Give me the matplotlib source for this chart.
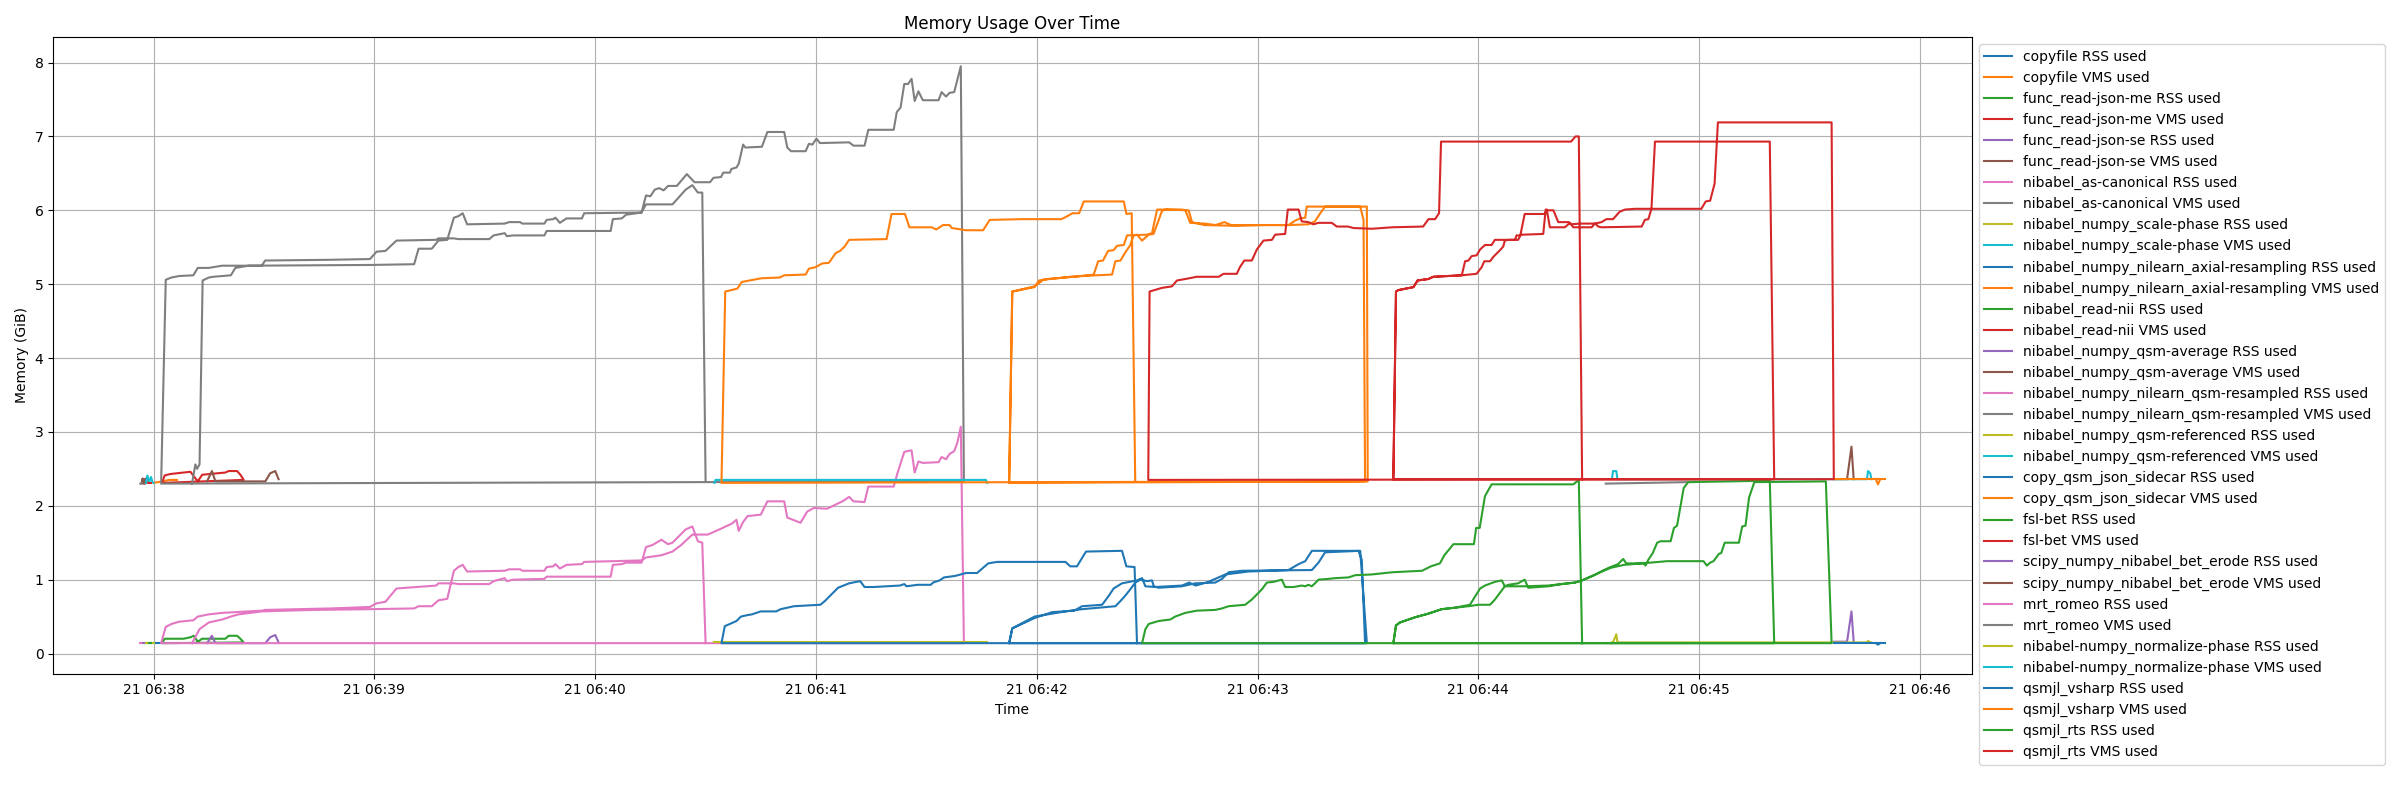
import matplotlib
matplotlib.use("Agg")
import matplotlib.pyplot as plt
import pandas as pd

START = pd.Timestamp("2024-05-21 06:38:00")

# every run is a list of (minutes after 06:38:00, GiB) samples;
# runs of the same task were logged one after the other, so they get concatenated
copyfile_rss = [(0.0, 0.14), (0.04, 0.14), (0.07, 0.14), (0.106, 0.14)]
copyfile_vms = [(0.0, 2.31), (0.04, 2.33), (0.07, 2.35), (0.106, 2.35)]

json_me_rss = [(-0.04, 0.14), (-0.035, 0.14), (-0.03, 0.14)]
json_me_vms = [(-0.04, 2.30), (-0.035, 2.37), (-0.03, 2.31)]

json_se_rss = [(-0.055, 0.14), (-0.05, 0.14), (-0.046, 0.14), (-0.041, 0.14), (-0.037, 0.14)]
json_se_vms = [(-0.055, 2.30), (-0.05, 2.37), (-0.046, 2.30), (-0.041, 2.36), (-0.037, 2.31)]

canonical_rss = [(-0.06, 0.14), (-0.055, 0.14)]
canonical_vms = [(-0.06, 2.30), (-0.055, 2.31)]

scale_phase_rss = [(-0.035, 0.14), (-0.028, 0.14), (-0.02, 0.14), (-0.012, 0.14), (-0.005, 0.14), (0.0, 0.14)]
scale_phase_vms = [(-0.035, 2.31), (-0.028, 2.41), (-0.02, 2.32), (-0.012, 2.39), (-0.005, 2.32), (0.0, 2.31)]

axial_rss = [(7.80, 0.14), (7.81, 0.12), (7.82, 0.14)]
axial_vms = [(7.80, 2.36), (7.81, 2.29), (7.82, 2.36)]

read_nii_rss = [(-0.02, 0.14), (-0.01, 0.14)]
read_nii_vms = [(-0.02, 2.31), (-0.01, 2.31)]

qsm_average_rss = [(7.61, 0.16), (7.67, 0.16), (7.69, 0.57), (7.70, 0.16)]
qsm_average_vms = [(7.61, 2.36), (7.67, 2.36), (7.69, 2.80), (7.70, 2.36)]

qsm_resampled_rss = [(6.577, 0.14), (6.95, 0.14)]
qsm_resampled_vms = [(6.577, 2.30), (6.95, 2.32)]

qsm_referenced_rss = [(6.605, 0.15), (6.61, 0.15), (6.625, 0.26), (6.63, 0.15),
                      (7.76, 0.15), (7.765, 0.17), (7.775, 0.15), (7.78, 0.15)]
qsm_referenced_vms = [(6.605, 2.36), (6.61, 2.47), (6.625, 2.47), (6.63, 2.36),
                      (7.76, 2.36), (7.765, 2.47), (7.775, 2.44), (7.78, 2.36)]

sidecar_rss = [(7.61, 0.14), (7.84, 0.14)]
sidecar_vms = [(7.61, 2.36), (7.84, 2.36)]

bet_rss = [(0.20, 0.16), (0.22, 0.20), (0.325, 0.20), (0.34, 0.24), (0.378, 0.24), (0.393, 0.20), (0.408, 0.15),
           (0.038, 0.14), (0.05, 0.20), (0.076, 0.20), (0.136, 0.20), (0.167, 0.22), (0.182, 0.24), (0.20, 0.16)]
bet_vms = [(0.20, 2.33), (0.22, 2.42), (0.325, 2.45), (0.34, 2.47), (0.378, 2.47), (0.393, 2.42), (0.408, 2.35),
           (0.038, 2.31), (0.05, 2.41), (0.076, 2.43), (0.136, 2.45), (0.167, 2.46), (0.182, 2.40), (0.20, 2.33)]

erode_rss = [(0.242, 0.14), (0.264, 0.24), (0.28, 0.14), (0.506, 0.14), (0.528, 0.22), (0.551, 0.25), (0.566, 0.15)]
erode_vms = [(0.242, 2.33), (0.264, 2.47), (0.28, 2.33), (0.506, 2.33), (0.528, 2.44), (0.551, 2.47), (0.566, 2.36)]

romeo_rss_b = [(0.174, 0.14), (0.208, 0.33), (0.25, 0.42), (0.31, 0.46), (0.36, 0.51), (0.385, 0.53), (0.49, 0.57),
               (0.72, 0.59), (0.98, 0.60), (1.18, 0.61), (1.20, 0.64), (1.26, 0.64), (1.29, 0.72), (1.33, 0.74),
               (1.36, 1.12), (1.38, 1.17), (1.40, 1.20), (1.42, 1.11), (1.59, 1.12), (1.61, 1.14), (1.66, 1.14),
               (1.67, 1.12), (1.77, 1.12), (1.78, 1.17), (1.81, 1.18), (1.82, 1.21), (1.84, 1.15), (1.87, 1.20),
               (1.94, 1.21), (1.95, 1.24), (2.21, 1.26), (2.23, 1.30), (2.30, 1.33), (2.35, 1.38), (2.39, 1.47),
               (2.44, 1.61), (2.51, 1.61), (2.57, 1.69), (2.62, 1.76), (2.64, 1.81), (2.65, 1.66), (2.67, 1.78),
               (2.69, 1.86), (2.75, 1.88), (2.78, 2.06), (2.856, 2.06), (2.87, 1.84), (2.93, 1.77), (2.96, 1.92),
               (2.99, 1.97), (3.05, 1.96), (3.12, 2.06), (3.15, 2.12), (3.17, 2.06), (3.22, 2.05), (3.237, 2.26),
               (3.352, 2.26), (3.37, 2.45), (3.40, 2.73), (3.433, 2.75), (3.447, 2.45), (3.464, 2.60), (3.484, 2.58),
               (3.555, 2.59), (3.569, 2.66), (3.589, 2.63), (3.605, 2.70), (3.626, 2.74), (3.64, 2.85), (3.656, 3.07),
               (3.67, 0.14)]
romeo_rss_a = [(0.034, 0.14), (0.055, 0.36), (0.081, 0.40), (0.115, 0.43), (0.18, 0.45), (0.20, 0.50), (0.25, 0.53),
               (0.31, 0.55), (0.49, 0.58), (0.505, 0.59), (0.80, 0.61), (0.98, 0.63), (1.01, 0.68), (1.05, 0.70),
               (1.10, 0.88), (1.28, 0.92), (1.29, 0.95), (1.36, 0.95), (1.38, 0.94), (1.52, 0.94), (1.54, 0.98),
               (1.59, 1.02), (1.60, 0.98), (1.63, 1.00), (1.77, 1.01), (1.78, 1.04), (2.07, 1.04), (2.08, 1.20),
               (2.12, 1.21), (2.14, 1.23), (2.21, 1.23), (2.23, 1.44), (2.26, 1.47), (2.30, 1.54), (2.33, 1.48),
               (2.35, 1.50), (2.41, 1.68), (2.44, 1.72), (2.465, 1.52), (2.485, 1.50), (2.50, 0.14)]
romeo_vms_b = [(0.174, 2.30), (0.189, 2.56), (0.197, 2.50), (0.208, 2.56), (0.222, 5.05), (0.25, 5.09), (0.27, 5.10),
               (0.35, 5.12), (0.37, 5.22), (0.43, 5.25), (0.98, 5.26), (1.18, 5.27), (1.20, 5.48), (1.26, 5.48),
               (1.29, 5.59), (1.33, 5.60), (1.36, 5.90), (1.38, 5.92), (1.40, 5.96), (1.42, 5.81), (1.59, 5.82),
               (1.61, 5.84), (1.66, 5.84), (1.67, 5.82), (1.77, 5.82), (1.78, 5.87), (1.81, 5.88), (1.82, 5.90),
               (1.84, 5.83), (1.87, 5.89), (1.94, 5.89), (1.95, 5.96), (2.21, 5.97), (2.23, 6.20), (2.25, 6.19),
               (2.27, 6.28), (2.29, 6.30), (2.31, 6.27), (2.33, 6.33), (2.37, 6.33), (2.415, 6.49), (2.45, 6.38),
               (2.52, 6.38), (2.536, 6.44), (2.57, 6.45), (2.58, 6.51), (2.61, 6.51), (2.617, 6.56), (2.64, 6.58),
               (2.65, 6.63), (2.67, 6.89), (2.68, 6.85), (2.755, 6.86), (2.78, 7.06), (2.856, 7.06), (2.87, 6.85),
               (2.887, 6.80), (2.953, 6.80), (2.968, 6.90), (2.984, 6.89), (3.002, 6.97), (3.018, 6.91), (3.15, 6.92),
               (3.17, 6.875), (3.22, 6.875), (3.237, 7.09), (3.352, 7.09), (3.366, 7.33), (3.383, 7.39), (3.40, 7.71),
               (3.417, 7.71), (3.433, 7.78), (3.447, 7.48), (3.464, 7.61), (3.484, 7.49), (3.555, 7.49), (3.569, 7.60),
               (3.589, 7.54), (3.605, 7.59), (3.626, 7.60), (3.656, 7.95), (3.67, 2.33)]
romeo_vms_a = [(0.034, 2.30), (0.055, 5.06), (0.081, 5.09), (0.115, 5.11), (0.18, 5.12), (0.20, 5.22), (0.25, 5.22),
               (0.31, 5.25), (0.49, 5.25), (0.505, 5.32), (0.80, 5.33), (0.98, 5.34), (1.01, 5.44), (1.05, 5.45),
               (1.10, 5.59), (1.28, 5.60), (1.29, 5.62), (1.36, 5.62), (1.38, 5.61), (1.52, 5.61), (1.54, 5.66),
               (1.59, 5.69), (1.60, 5.65), (1.63, 5.66), (1.77, 5.66), (1.78, 5.72), (2.07, 5.72), (2.08, 5.88),
               (2.12, 5.89), (2.14, 5.94), (2.21, 5.97), (2.23, 6.08), (2.35, 6.08), (2.41, 6.28), (2.44, 6.34),
               (2.465, 6.24), (2.485, 6.24), (2.50, 2.33)]

normalize_rss = [(2.54, 0.15), (2.545, 0.15), (3.77, 0.15), (3.775, 0.15)]
normalize_vms = [(2.54, 2.31), (2.545, 2.35), (3.77, 2.35), (3.775, 2.31)]

vsharp_rss_c = [(3.875, 0.14), (3.889, 0.34), (3.99, 0.48), (4.07, 0.56), (4.17, 0.58), (4.205, 0.64), (4.296, 0.66),
                (4.326, 0.78), (4.348, 0.88), (4.386, 0.95), (4.454, 0.99), (4.477, 1.02), (4.492, 0.91), (4.537, 0.90),
                (4.658, 0.92), (4.69, 0.96), (4.72, 0.92), (4.778, 0.97), (4.808, 1.01), (4.854, 1.07), (4.959, 1.11),
                (5.14, 1.13), (5.186, 1.21), (5.216, 1.25), (5.246, 1.39), (5.457, 1.39), (5.472, 1.27), (5.487, 0.14)]
vsharp_rss_d = [(3.875, 0.14), (3.889, 0.34), (3.99, 0.50), (4.13, 0.57), (4.205, 0.60), (4.356, 0.64), (4.379, 0.71),
                (4.40, 0.78), (4.424, 0.87), (4.446, 0.96), (4.469, 1.00), (4.50, 0.98), (4.522, 0.99), (4.53, 0.91),
                (4.552, 0.89), (4.658, 0.91), (4.718, 0.95), (4.808, 0.96), (4.839, 1.01), (4.869, 1.10), (4.93, 1.12),
                (5.246, 1.13), (5.276, 1.23), (5.306, 1.37), (5.465, 1.39), (5.495, 0.14)]
vsharp_rss_1 = [(2.572, 0.14), (2.587, 0.37), (2.61, 0.40), (2.64, 0.44), (2.66, 0.50), (2.69, 0.52), (2.71, 0.53),
                (2.75, 0.57), (2.82, 0.57), (2.84, 0.60), (2.90, 0.64), (3.02, 0.66), (3.04, 0.71), (3.07, 0.80),
                (3.10, 0.89), (3.15, 0.95), (3.20, 0.98), (3.22, 0.90), (3.26, 0.90), (3.38, 0.92), (3.40, 0.94),
                (3.41, 0.91), (3.46, 0.93), (3.52, 0.93), (3.53, 0.96), (3.56, 0.99), (3.58, 1.03), (3.63, 1.05),
                (3.68, 1.09), (3.73, 1.09), (3.78, 1.22), (3.82, 1.24), (4.13, 1.24), (4.152, 1.18), (4.182, 1.18),
                (4.223, 1.38), (4.386, 1.39), (4.406, 1.18), (4.443, 1.17), (4.454, 0.14)]
vsharp_vms_c = [(3.875, 2.31), (3.889, 4.90), (3.99, 4.96), (4.01, 5.05), (4.05, 5.07), (4.17, 5.10), (4.258, 5.13),
                (4.278, 5.31), (4.30, 5.32), (4.323, 5.45), (4.348, 5.46), (4.364, 5.52), (4.394, 5.53), (4.409, 5.66),
                (4.50, 5.67), (4.522, 5.69), (4.545, 6.01), (4.658, 6.01), (4.673, 6.00), (4.695, 5.83), (4.76, 5.82),
                (4.81, 5.80), (4.85, 5.84), (4.88, 5.80), (5.02, 5.80), (5.14, 5.80), (5.23, 5.81), (5.26, 5.85),
                (5.284, 5.96), (5.306, 6.05), (5.495, 6.05), (5.499, 2.33)]
vsharp_vms_d = [(3.875, 2.31), (3.889, 4.90), (3.99, 4.97), (4.03, 5.06), (4.152, 5.10), (4.205, 5.11), (4.341, 5.13),
                (4.356, 5.31), (4.379, 5.32), (4.401, 5.43), (4.424, 5.53), (4.431, 5.60), (4.439, 5.66), (4.454, 5.67),
                (4.477, 5.59), (4.507, 5.67), (4.529, 5.68), (4.567, 5.99), (4.582, 6.01), (4.688, 6.00), (4.703, 5.84),
                (4.76, 5.80), (4.90, 5.79), (5.02, 5.80), (5.14, 5.80), (5.17, 5.86), (5.193, 5.89), (5.216, 5.90),
                (5.223, 6.05), (5.465, 6.05), (5.48, 5.87), (5.487, 2.33)]
vsharp_vms_1 = [(2.572, 2.31), (2.589, 4.90), (2.644, 4.94), (2.664, 5.03), (2.735, 5.07), (2.755, 5.08), (2.836, 5.09),
                (2.856, 5.12), (2.953, 5.13), (2.968, 5.21), (2.998, 5.23), (3.028, 5.28), (3.059, 5.29), (3.089, 5.42),
                (3.109, 5.45), (3.13, 5.51), (3.15, 5.60), (3.32, 5.61), (3.342, 5.95), (3.403, 5.95), (3.423, 5.77),
                (3.524, 5.77), (3.545, 5.74), (3.575, 5.80), (3.605, 5.80), (3.615, 5.76), (3.68, 5.73), (3.757, 5.73),
                (3.787, 5.87), (3.929, 5.88), (4.111, 5.88), (4.132, 5.91), (4.162, 5.96), (4.192, 5.96), (4.213, 6.12),
                (4.394, 6.12), (4.406, 5.95), (4.43, 5.96), (4.446, 2.33)]

rts_rss_f = [(5.615, 0.14), (5.627, 0.38), (5.645, 0.42), (5.713, 0.49), (5.774, 0.54), (5.834, 0.60), (5.894, 0.62),
             (5.955, 0.64), (6.0, 0.66), (6.053, 0.66), (6.075, 0.73), (6.12, 0.91), (6.136, 0.93), (6.18, 0.95),
             (6.21, 1.00), (6.226, 0.89), (6.317, 0.91), (6.377, 0.94), (6.437, 0.96), (6.47, 0.99), (6.53, 1.07),
             (6.59, 1.16), (6.633, 1.21), (6.656, 1.28), (6.67, 1.22), (6.75, 1.22), (6.757, 1.19), (6.77, 1.27),
             (6.79, 1.36), (6.81, 1.50), (6.826, 1.52), (6.871, 1.52), (6.886, 1.70), (6.90, 1.73), (6.916, 2.00),
             (6.93, 2.24), (6.95, 2.32), (7.32, 2.34), (7.34, 0.14)]
rts_rss_e = [(5.615, 0.14), (5.627, 0.38), (5.645, 0.42), (5.713, 0.49), (5.774, 0.54), (5.834, 0.60), (5.894, 0.62),
             (5.962, 0.66), (6.008, 0.88), (6.03, 0.92), (6.075, 0.97), (6.106, 0.99), (6.12, 0.91), (6.21, 0.91),
             (6.317, 0.92), (6.377, 0.94), (6.437, 0.96), (6.47, 0.99), (6.51, 1.04), (6.56, 1.11), (6.60, 1.16),
             (6.66, 1.20), (6.74, 1.22), (6.855, 1.25), (7.02, 1.25), (7.035, 1.19), (7.05, 1.23), (7.065, 1.25),
             (7.09, 1.35), (7.10, 1.36), (7.116, 1.50), (7.18, 1.50), (7.195, 1.72), (7.21, 1.73), (7.226, 2.11),
             (7.25, 2.32), (7.574, 2.33), (7.60, 0.14)]
rts_rss_1 = [(4.477, 0.14), (4.492, 0.33), (4.507, 0.40), (4.552, 0.44), (4.605, 0.46), (4.627, 0.50), (4.673, 0.55),
             (4.725, 0.58), (4.808, 0.59), (4.839, 0.61), (4.869, 0.64), (4.944, 0.66), (4.974, 0.73), (5.02, 0.87),
             (5.042, 0.96), (5.072, 0.97), (5.11, 1.00), (5.125, 0.90), (5.163, 0.90), (5.20, 0.92), (5.216, 0.91),
             (5.23, 0.93), (5.246, 0.91), (5.26, 0.95), (5.276, 1.00), (5.321, 1.01), (5.351, 1.02), (5.412, 1.03),
             (5.442, 1.06), (5.517, 1.07), (5.61, 1.10), (5.745, 1.12), (5.785, 1.18), (5.826, 1.22), (5.846, 1.33),
             (5.887, 1.48), (5.98, 1.48), (5.99, 1.70), (6.006, 1.70), (6.03, 2.13), (6.06, 2.29), (6.43, 2.29),
             (6.455, 2.35), (6.47, 0.14)]
rts_vms_f = [(5.615, 2.36), (5.627, 4.90), (5.638, 4.92), (5.706, 4.96), (5.725, 5.05), (5.774, 5.07), (5.796, 5.10),
             (5.925, 5.12), (5.94, 5.31), (5.955, 5.32), (5.97, 5.38), (5.992, 5.39), (6.008, 5.47), (6.03, 5.53),
             (6.06, 5.53), (6.075, 5.60), (6.166, 5.60), (6.173, 5.66), (6.19, 5.66), (6.21, 5.95), (6.30, 5.95),
             (6.31, 6.00), (6.34, 6.00), (6.362, 5.84), (6.41, 5.84), (6.42, 5.81), (6.46, 5.82), (6.53, 5.82),
             (6.543, 5.78), (6.558, 5.77), (6.74, 5.78), (6.754, 5.87), (6.77, 5.88), (6.784, 6.02), (6.80, 6.93),
             (7.32, 6.93), (7.34, 2.36)]
rts_vms_e = [(5.615, 2.36), (5.627, 4.90), (5.638, 4.92), (5.706, 4.96), (5.725, 5.05), (5.774, 5.07), (5.796, 5.10),
             (5.925, 5.12), (5.992, 5.14), (6.015, 5.23), (6.027, 5.31), (6.053, 5.31), (6.068, 5.37), (6.098, 5.46),
             (6.113, 5.51), (6.12, 5.59), (6.136, 5.60), (6.18, 5.60), (6.193, 5.67), (6.204, 5.67), (6.294, 5.68),
             (6.305, 6.01), (6.31, 6.01), (6.324, 5.77), (6.392, 5.77), (6.415, 5.83), (6.43, 5.77), (6.513, 5.77),
             (6.528, 5.82), (6.558, 5.84), (6.58, 5.88), (6.61, 5.88), (6.64, 5.98), (6.664, 6.01), (6.709, 6.02),
             (7.01, 6.02), (7.03, 6.12), (7.05, 6.13), (7.07, 6.36), (7.085, 7.19), (7.60, 7.19), (7.61, 2.36)]
rts_vms_1 = [(4.505, 2.35), (4.511, 4.90), (4.567, 4.95), (4.612, 4.97), (4.635, 5.05), (4.673, 5.07), (4.725, 5.10),
             (4.824, 5.10), (4.846, 5.14), (4.906, 5.14), (4.92, 5.23), (4.94, 5.32), (4.974, 5.32), (4.997, 5.47),
             (5.027, 5.59), (5.065, 5.60), (5.08, 5.67), (5.125, 5.68), (5.137, 6.01), (5.186, 6.01), (5.20, 5.85),
             (5.23, 5.84), (5.253, 5.81), (5.276, 5.83), (5.336, 5.83), (5.359, 5.78), (5.41, 5.78), (5.434, 5.76),
             (5.517, 5.75), (5.61, 5.77), (5.75, 5.78), (5.774, 5.88), (5.804, 5.88), (5.822, 5.96), (5.831, 6.93),
             (6.42, 6.93), (6.44, 7.00), (6.455, 7.00), (6.47, 2.36)]

series = [
    ("copyfile RSS used", [copyfile_rss]),
    ("copyfile VMS used", [copyfile_vms]),
    ("func_read-json-me RSS used", [json_me_rss]),
    ("func_read-json-me VMS used", [json_me_vms]),
    ("func_read-json-se RSS used", [json_se_rss]),
    ("func_read-json-se VMS used", [json_se_vms]),
    ("nibabel_as-canonical RSS used", [canonical_rss]),
    ("nibabel_as-canonical VMS used", [canonical_vms]),
    ("nibabel_numpy_scale-phase RSS used", [scale_phase_rss]),
    ("nibabel_numpy_scale-phase VMS used", [scale_phase_vms]),
    ("nibabel_numpy_nilearn_axial-resampling RSS used", [axial_rss]),
    ("nibabel_numpy_nilearn_axial-resampling VMS used", [axial_vms]),
    ("nibabel_read-nii RSS used", [read_nii_rss]),
    ("nibabel_read-nii VMS used", [read_nii_vms]),
    ("nibabel_numpy_qsm-average RSS used", [qsm_average_rss]),
    ("nibabel_numpy_qsm-average VMS used", [qsm_average_vms]),
    ("nibabel_numpy_nilearn_qsm-resampled RSS used", [qsm_resampled_rss]),
    ("nibabel_numpy_nilearn_qsm-resampled VMS used", [qsm_resampled_vms]),
    ("nibabel_numpy_qsm-referenced RSS used", [qsm_referenced_rss]),
    ("nibabel_numpy_qsm-referenced VMS used", [qsm_referenced_vms]),
    ("copy_qsm_json_sidecar RSS used", [sidecar_rss]),
    ("copy_qsm_json_sidecar VMS used", [sidecar_vms]),
    ("fsl-bet RSS used", [bet_rss]),
    ("fsl-bet VMS used", [bet_vms]),
    ("scipy_numpy_nibabel_bet_erode RSS used", [erode_rss]),
    ("scipy_numpy_nibabel_bet_erode VMS used", [erode_vms]),
    ("mrt_romeo RSS used", [romeo_rss_b, romeo_rss_a]),
    ("mrt_romeo VMS used", [romeo_vms_b, romeo_vms_a]),
    ("nibabel-numpy_normalize-phase RSS used", [normalize_rss]),
    ("nibabel-numpy_normalize-phase VMS used", [normalize_vms]),
    ("qsmjl_vsharp RSS used", [vsharp_rss_c, vsharp_rss_d, vsharp_rss_1]),
    ("qsmjl_vsharp VMS used", [vsharp_vms_c, vsharp_vms_d, vsharp_vms_1]),
    ("qsmjl_rts RSS used", [rts_rss_f, rts_rss_e, rts_rss_1]),
    ("qsmjl_rts VMS used", [rts_vms_f, rts_vms_e, rts_vms_1]),
]

plt.figure(figsize=(24, 8))
for label, runs in series:
    samples = [s for run in runs for s in run]
    df = pd.DataFrame(samples, columns=["minute", "gib"])
    times = START + pd.to_timedelta(df["minute"], unit="min")
    plt.plot(times, df["gib"], label=label)

plt.xlabel("Time")
plt.ylabel("Memory (GiB)")
plt.title("Memory Usage Over Time")
plt.grid(True)
plt.legend(loc="upper left", bbox_to_anchor=(1, 1))
plt.tight_layout()
plt.savefig("out.png", dpi=100)
